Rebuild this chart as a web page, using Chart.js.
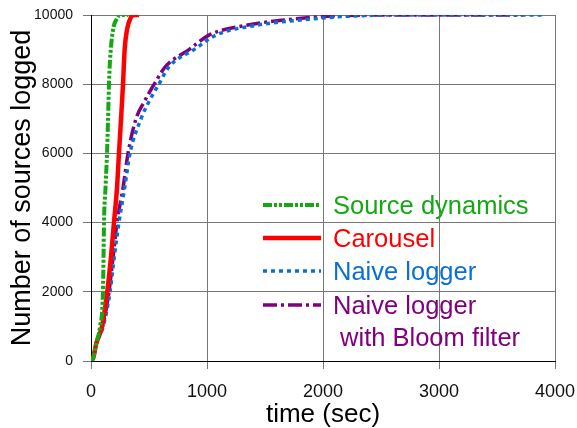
<!DOCTYPE html>
<html>
<head>
<meta charset="utf-8">
<script src="https://cdn.jsdelivr.net/npm/chart.js@4/dist/chart.umd.min.js"></script>
<style>
  body { margin: 0; background: #fff; }
  canvas { display: block; }
</style>
</head>
<body>
<canvas id="logged" width="577" height="428"></canvas>
<script>
// time (sec) / number of sources logged, per method
const sourceTime   = [0, 20, 45, 78, 103, 108, 112, 125, 138, 147, 155, 164, 190, 233, 245, 320];
const sourceCount  = [0, 100, 500, 1000, 2000, 3000, 4000, 5000, 6000, 7000, 8000, 8700, 9570, 9940, 10000, 10000];

const carouselTime  = [0, 20, 45, 95, 140, 172, 198, 224, 241, 259, 276, 290, 310, 345, 370, 414];
const carouselCount = [0, 100, 500, 1000, 2000, 3000, 4000, 5000, 6000, 7000, 8000, 9000, 9570, 9940, 10000, 10000];

const naiveTime  = [0, 20, 45, 105, 164, 200, 241, 290, 336, 431, 500, 585, 672, 888, 1078, 1440, 1810, 2250, 2750, 3905];
const naiveCount = [0, 100, 500, 1000, 2000, 3000, 4000, 5000, 6000, 7000, 7500, 8000, 8500, 9000, 9420, 9711, 9855, 9970, 10000, 10000];

const bloomTime  = [0, 20, 45, 100, 155, 190, 224, 276, 319, 388, 460, 545, 640, 845, 1017, 1353, 1664, 2070, 2600, 3724];
const bloomCount = [0, 100, 500, 1000, 2000, 3000, 4000, 5000, 6000, 7000, 7500, 8000, 8500, 9000, 9420, 9711, 9855, 9970, 10000, 10000];

const seriesNames = ["Source dynamics", "Carousel", "Naive logger", "Naive logger\n with Bloom filter"];
const xTicks = [0, 1000, 2000, 3000, 4000];
const yTicks = [0, 2000, 4000, 6000, 8000, 10000];

const FONT = "'Liberation Sans', Arial, sans-serif";

function pts(ts, ns) {
  return ts.map((t, i) => ({ x: t, y: ns[i] }));
}

// legend drawn inside the plot, lines on the left, coloured text on the right
const insideLegend = {
  id: "insideLegend",
  afterDatasetsDraw(chart) {
    const ctx = chart.ctx;
    const rows = [205, 238, 271, 305];
    ctx.save();
    ctx.font = "25.5px " + FONT;
    ctx.textBaseline = "middle";
    chart.data.datasets.forEach((ds, i) => {
      const y = rows[i];
      ctx.strokeStyle = ds.borderColor;
      ctx.lineWidth = ds.borderWidth;
      ctx.setLineDash(ds.borderDash || []);
      ctx.beginPath();
      ctx.moveTo(263, y);
      ctx.lineTo(321, y);
      ctx.stroke();
      ctx.setLineDash([]);
      ctx.fillStyle = ds.borderColor;
      const lines = ds.label.split("\n");
      lines.forEach((s, j) => ctx.fillText(s, 333, y + 2 + j * 32));
    });
    ctx.restore();
  }
};

new Chart(document.getElementById("logged"), {
  type: "scatter",
  data: {
    datasets: [{
      label: seriesNames[0],
      data: pts(sourceTime, sourceCount),
      borderColor: "#14a814",
      borderWidth: 4,
      borderDash: [9, 2, 3, 2, 3, 2]
    }, {
      label: seriesNames[1],
      data: pts(carouselTime, carouselCount),
      borderColor: "#ff0000",
      borderWidth: 4.5
    }, {
      label: seriesNames[2],
      data: pts(naiveTime, naiveCount),
      borderColor: "#0a6fd4",
      borderWidth: 3.5,
      borderDash: [4, 4]
    }, {
      label: seriesNames[3],
      data: pts(bloomTime, bloomCount),
      borderColor: "#800080",
      borderWidth: 3.5,
      borderDash: [14, 4, 3, 4]
    }]
  },
  options: {
    responsive: false,
    animation: false,
    showLine: true,
    layout: { padding: { top: 15, right: 22, left: 0, bottom: 0 } },
    elements: {
      point: { radius: 0 },
      line: { cubicInterpolationMode: "monotone", borderCapStyle: "butt" }
    },
    plugins: {
      legend: { display: false },
      tooltip: { enabled: false }
    },
    scales: {
      x: {
        type: "linear",
        min: 0,
        max: 4000,
        afterBuildTicks: (s) => { s.ticks = xTicks.map(v => ({ value: v })); },
        afterFit: (s) => { s.height = 67; s.paddingLeft = 0; s.paddingRight = 0; },
        ticks: { color: "#111", font: { family: FONT, size: 18 }, padding: 12, callback: (v) => String(v) },
        grid: { color: "#777", tickLength: 8 },
        border: { color: "#000" },
        title: {
          display: true,
          text: "time (sec)",
          color: "#000",
          font: { family: FONT, size: 26, lineHeight: 1 },
          padding: { top: 0, bottom: 0 }
        }
      },
      y: {
        min: 0,
        max: 10000,
        afterBuildTicks: (s) => { s.ticks = yTicks.map(v => ({ value: v })); },
        afterFit: (s) => { s.width = 91; s.paddingTop = 0; s.paddingBottom = 0; },
        ticks: { color: "#111", font: { family: FONT, size: 14 }, padding: 10, callback: (v) => String(v) },
        grid: { color: "#777", tickLength: 8 },
        border: { color: "#000" },
        title: {
          display: true,
          text: "Number of sources logged",
          color: "#000",
          font: { family: FONT, size: 27, lineHeight: 1 },
          padding: { top: 9, bottom: 0 }
        }
      }
    }
  },
  plugins: [insideLegend]
});
</script>
</body>
</html>
